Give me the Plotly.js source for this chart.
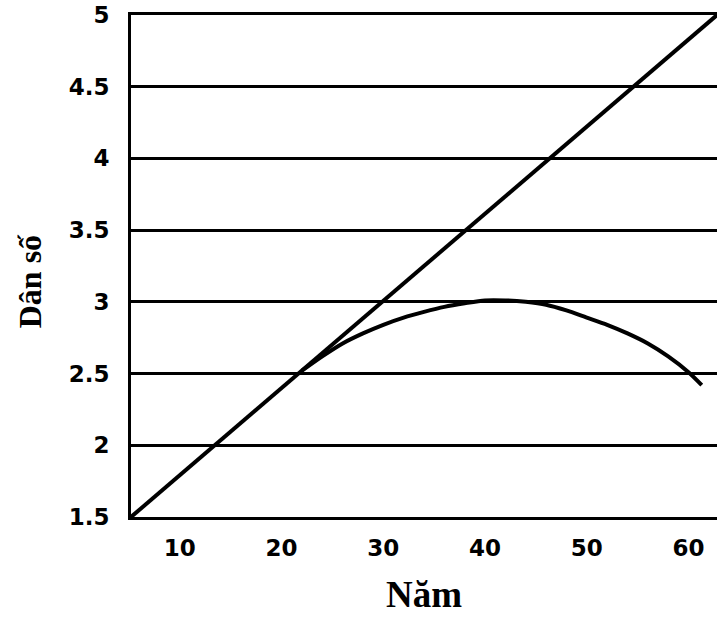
<!DOCTYPE html>
<html>
<head>
<meta charset="utf-8">
<script src="https://cdn.plot.ly/plotly-3.0.1.min.js"></script>
<style>html,body{margin:0;padding:0;background:#fff;}#chart{width:718px;height:617px;}</style>
</head>
<body>
<div id="chart"></div>
<script>
// Straight line (linear growth)
var lineYears = [5.2, 62.8];
var lineValues = [1.5, 5.0];
// Curve (departs from the line near year 22)
var curveYears = [22, 24, 26, 28, 30, 32, 34, 36, 38, 40, 42, 44, 46, 48, 50, 52, 54, 56, 58, 60, 61.3];
var curveValues = [2.52, 2.62, 2.71, 2.78, 2.84, 2.89, 2.93, 2.965, 2.99, 3.01, 3.01, 3.00, 2.98, 2.94, 2.89, 2.84, 2.78, 2.71, 2.62, 2.51, 2.42];
var xTicks = [10, 20, 30, 40, 50, 60];
var yTicks = [1.5, 2, 2.5, 3, 3.5, 4, 4.5, 5];
var yTickText = ['1.5', '2', '2.5', '3', '3.5', '4', '4.5', '5'];

var traces = [
  {x: lineYears, y: lineValues, mode: 'lines', line: {color: '#000', width: 4}, hoverinfo: 'skip'},
  {x: curveYears, y: curveValues, mode: 'lines', line: {color: '#000', width: 4, shape: 'spline', smoothing: 0.8}, hoverinfo: 'skip'}
];

var tickFont = {family: 'DejaVu Sans', size: 23, color: '#000', weight: 'bold'};

var layout = {
  width: 718, height: 617,
  margin: {l: 131, r: 1, t: 15, b: 100},
  paper_bgcolor: '#fff', plot_bgcolor: '#fff',
  showlegend: false,
  xaxis: {
    range: [5.2, 62.8], tickmode: 'array', tickvals: xTicks, ticktext: xTicks.map(String),
    showgrid: false, zeroline: false, showline: true, linecolor: '#000', linewidth: 3, mirror: true,
    ticks: '', ticklabelstandoff: 8, tickfont: tickFont,
    title: {text: 'Năm', font: {family: 'Liberation Serif', size: 37, color: '#000', weight: 'bold'}, standoff: 22}
  },
  yaxis: {
    range: [1.5, 5], tickmode: 'array', tickvals: yTicks, ticktext: yTickText,
    showgrid: true, gridcolor: '#000', gridwidth: 3, zeroline: false,
    showline: true, linecolor: '#000', linewidth: 3,
    ticks: '', ticklabelstandoff: 14, tickfont: tickFont
  },
  annotations: [{
    text: 'Dân số', xref: 'paper', yref: 'paper', x: -0.172, y: 0.47,
    xanchor: 'center', yanchor: 'middle', textangle: -90, showarrow: false,
    font: {family: 'Liberation Serif', size: 32, color: '#000', weight: 'bold'}
  }]
};

Plotly.newPlot('chart', traces, layout, {staticPlot: true, displayModeBar: false});
</script>
</body>
</html>
